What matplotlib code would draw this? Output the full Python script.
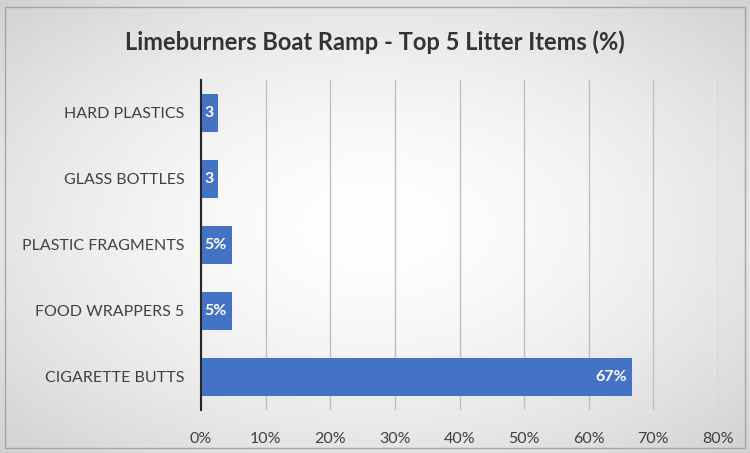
import numpy as np
import matplotlib
matplotlib.use("Agg")
import matplotlib.pyplot as plt
from matplotlib.patches import Rectangle

categories = ["CIGARETTE BUTTS", "FOOD WRAPPERS 5", "PLASTIC FRAGMENTS", "GLASS BOTTLES", "HARD PLASTICS"]
values = [66.7, 4.8, 4.8, 2.7, 2.7]
labels = ["67%", "5%", "5%", "3", "3"]
xticks = [0, 10, 20, 30, 40, 50, 60, 70, 80]
title = "Limeburners Boat Ramp - Top 5 Litter Items (%)"

plt.rcParams['font.family'] = ['Lato', 'DejaVu Sans']

fig = plt.figure(figsize=(7.5, 4.53), dpi=100)

# gradient background
bg = fig.add_axes([0, 0, 1, 1], zorder=-10)
yy, xx = np.mgrid[-1:1:300j, -1:1:500j]
r = np.sqrt(xx**2 + yy**2) / np.sqrt(2)
g = 1.0 - 0.18 * np.clip(r, 0, 1) ** 1.6
bg.imshow(np.dstack([g, g, g]), extent=[0, 1, 0, 1], aspect='auto', origin='lower')
bg.add_patch(Rectangle((5/750, 5/453), 740/750, 441/453, fill=False, ec='#a6a6a6', lw=1.0))
bg.set_xlim(0, 1); bg.set_ylim(0, 1)
bg.axis('off')

ax = fig.add_axes([201/750, 1 - 410/453, 517/750, 330/453])
ax.patch.set_alpha(0)
y = np.arange(len(categories))
bars = ax.barh(y, values, height=0.59, color='#4472C4', zorder=3)
for b, lab in zip(bars, labels):
    ax.text(b.get_width() - 0.8, b.get_y() + b.get_height()/2, lab, ha='right', va='center',
            color='white', fontsize=11.5, fontweight='bold', zorder=4)

ax.set_xlim(0, 80)
ax.set_ylim(-0.5, 4.5)
ax.set_xticks(xticks)
ax.set_xticklabels([f"{t}%" for t in xticks], fontsize=11.5, color='#404040')
ax.set_yticks(y)
ax.set_yticklabels(categories, fontsize=11.5, color='#404040')
ax.tick_params(axis='both', length=0)
ax.tick_params(axis='x', pad=16)
ax.tick_params(axis='y', pad=12)
ax.grid(axis='x', color='#bfbfbf', lw=1.0, zorder=0)
for s in ['top', 'right', 'bottom']:
    ax.spines[s].set_visible(False)
ax.spines['left'].set_color('#262626')
ax.spines['left'].set_linewidth(1.5)
ax.spines['left'].set_zorder(5)

fig.text(0.5, 1 - 42/453, title, ha='center', va='center', fontsize=17,
         fontweight='bold', color='#333333')

fig.savefig("out.png", dpi=100)
